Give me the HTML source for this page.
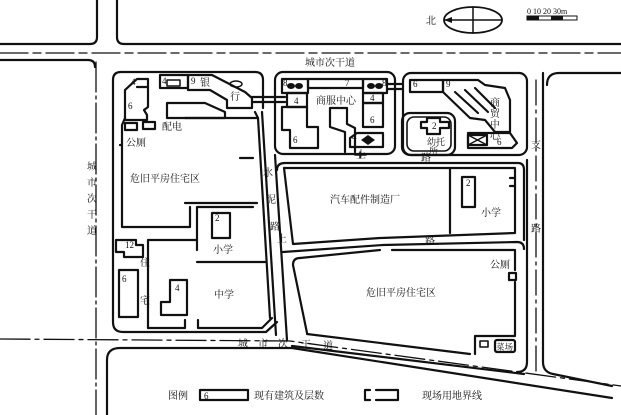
<!DOCTYPE html>
<html><head><meta charset="utf-8"><style>
html,body{margin:0;padding:0;background:#fff;}
svg{display:block;}
text{font-family:"Liberation Serif","Noto Serif CJK SC","Noto Sans CJK SC",serif;fill:#111;}
</style></head><body>
<svg width="621" height="415" viewBox="0 0 621 415" xmlns="http://www.w3.org/2000/svg">
<rect width="621" height="415" fill="#fff"/>
<g fill="none" stroke="#111" stroke-width="2.2" stroke-linejoin="round" stroke-linecap="round">
<!-- top road -->
<path d="M0,44 H90 Q97,44 97,37 V0"/>
<path d="M117,0 V37 Q117,44 124,44 H621"/>
<path d="M0,60 H88 Q95,60 95,67"/>
<path d="M547,85 Q547,73 559,73 H621"/>
<path d="M0,53 H621" stroke-width="1.3" stroke-dasharray="28,5,8,5"/>
<!-- left road center -->
<path d="M96,62 V415" stroke-width="1.3" stroke-dasharray="30,4,3,4"/>
<!-- right road -->
<path d="M536,80 V375" stroke-width="1.3" stroke-dasharray="25,5,3,5"/>
<path d="M543,73 V362 Q543,372 553,374 L612,386"/>
<path d="M527,160 V362 Q527,372 517,372"/>
<!-- bottom road -->
<path d="M0,339 L290,341 L621,386" stroke-width="1.3" stroke-dasharray="30,5,4,5"/>
<path d="M107,415 V360 Q107,348 120,348 L292,348 L612,398"/>
<path d="M307,334 L470,354"/>
<path d="M292,346 L524,374"/>
<!-- Block A outer -->
<path d="M263,108 V80 Q263,72 255,72 H121 Q113,72 113,80 V322 Q113,332 123,332 H266 L277,322"/>
<!-- water road lines -->
<path d="M255,112 L258,118 L270,318"/>
<path d="M262,112 L276,335"/>
<path d="M275,155 L287,340"/>
<path d="M277,170 Q277,163 285,163 H518 Q524,163 524,170 V240"/>
<!-- A inner residential -->
<path d="M185,118 H258"/>
<path d="M125,118 L122,125 V227 H190 V207"/>
<path d="M185,203 H257"/>
<path d="M240,158 H253"/>
<path d="M197,250 V207 H253"/>
<path d="M197,262 H265"/>
<path d="M148,328 V240 H197"/>
<path d="M148,328 H185 V320"/>
<path d="M198,320 V328 H262 L272,318"/>
<path d="M120,145 H122"/>
<!-- left top buildings -->
<path d="M125,90 L137,79 H148 V107 L144,110 L147,115 V120 H125 Z"/>
<path d="M137,87 H148"/>
<rect x="125" y="123" width="12" height="7"/>
<rect x="143" y="122" width="12" height="7"/>
<!-- bank -->
<rect x="160" y="75" width="28" height="13"/>
<rect x="167" y="80" width="13" height="6" stroke-width="1.5"/>
<path d="M188,75 H212 L245,92 L252,98 V108 H227 V100 L210,90 H188 Z"/>
<path d="M167,103 H205 L225,112 V118 H167 Z"/>
<ellipse cx="236" cy="84" rx="6" ry="3" stroke-width="1.5"/>
<path d="M252,97 H285 M252,102 H285"/>
<!-- middle block -->
<rect x="275" y="72" width="120" height="82" rx="8"/>
<rect x="282" y="79" width="26" height="14"/>
<rect x="308" y="79" width="55" height="9"/>
<rect x="363" y="79" width="24" height="14"/>
<path d="M387,84 H403 M387,89 H403"/>
<rect x="287" y="93" width="20" height="14"/>
<path d="M282,107 H307 V127 H318 V148 H290 V130 H282 Z"/>
<path d="M345,152 V132 L330,127 V108 H347 V124 L355,128 V152"/>
<rect x="363" y="93" width="20" height="10"/>
<rect x="363" y="103" width="20" height="24"/>
<path d="M357,133 H383 V147 H350 V138 Z"/>
<path d="M360,152 V158 M355,155 H366" stroke-width="1.5"/>
<!-- right block -->
<rect x="403" y="73" width="124" height="82" rx="8"/>
<rect x="410" y="80" width="33" height="12"/>
<path d="M443,80 H478 L485,85 L505,88 L510,100 V132 H495 L485,120 L470,118 L443,92 Z"/>
<path d="M455,92 L478,113 M465,90 L488,112 M475,88 L495,108"/>
<rect x="402" y="113" width="53" height="42" rx="8"/>
<rect x="407" y="117" width="44" height="34" rx="7" stroke-width="1.6"/>
<path d="M427,118 H440 V122 H449 V128 H440 V134 H427 V128 H421 V122 H427 Z"/>
<path d="M468,133 H510 L517,143 L512,148 H468 Z"/>
<rect x="468" y="135" width="19" height="10"/>
<path d="M468,135 L487,145 M487,135 L468,145" stroke-width="1.4"/>
<!-- block B -->
<path d="M284,168 H515 V233 L380,238 L293,244 Z"/>
<path d="M450,168 V233"/>
<rect x="462" y="177" width="13" height="30"/>
<path d="M515,178 H510 M515,186 H510"/>
<!-- road between B and C -->
<path d="M283,252 L383,245 L517,242 Q524,242 524,249"/>
<!-- block C -->
<path d="M300,258 Q293,258 293,265 L307,333"/>
<path d="M300,258 L380,250 M392,250 H515 V270"/>
<path d="M515,282 V336 H475 V354"/>
<rect x="509" y="273" width="7" height="7"/>
<rect x="480" y="341" width="8" height="6" stroke-width="1.6"/>
<rect x="495" y="340" width="20" height="12" rx="2"/>
<!-- left strip buildings -->
<path d="M116,240 H136 V245 H143 V257 H124 V252 H116 Z"/>
<rect x="119" y="270" width="19" height="47"/>
<path d="M170,280 H187 V315 H161 V302 H170 Z"/>
<rect x="212" y="213" width="18" height="25"/>
<!-- legend -->
<rect x="200" y="390" width="48" height="10"/>
<path d="M365,390 H370 M365,390 V400 H370 M376,400 H398 V390 H376"/>
<!-- north arrow -->
<ellipse cx="473" cy="20" rx="29" ry="13" stroke-width="1.8"/>
<path d="M473,7 V33 M445,20 H502" stroke-width="1.5"/>
</g>
<!-- filled icons -->
<g fill="#111">
<polygon points="444,20 452,17 452,23"/>
<rect x="527" y="16" width="12" height="4"/>
<rect x="551" y="16" width="12" height="4"/>
<rect x="527" y="16" width="50" height="4" fill="none" stroke="#111" stroke-width="1"/>
<ellipse cx="291" cy="86" rx="4" ry="3"/><ellipse cx="299" cy="86" rx="4" ry="3"/>
<ellipse cx="371" cy="86" rx="4" ry="3"/><ellipse cx="379" cy="86" rx="4" ry="3"/>
<polygon points="361,140 368,135 375,140 368,145"/>
</g>
<g font-size="10">
<text x="305" y="66">城市次干道</text>
<text x="316" y="104">商服中心</text>
<text x="200" y="86">银</text>
<text x="230" y="100">行</text>
<text x="162" y="130">配电</text>
<text x="126" y="146">公厕</text>
<text x="130" y="182">危旧平房住宅区</text>
<text x="263" y="176">水</text>
<text x="266" y="203">泥</text>
<text x="270" y="230">路</text>
<text x="213" y="253">小学</text>
<text x="214" y="298">中学</text>
<text x="140" y="266">住</text>
<text x="140" y="304">宅</text>
<text x="330" y="203">汽车配件制造厂</text>
<text x="481" y="216">小学</text>
<text x="366" y="296">危旧平房住宅区</text>
<text x="490" y="268">公厕</text>
<text x="496" y="350" font-size="8.5">菜场</text>
<text x="427" y="145" font-size="9">幼托</text>
<text x="429" y="154" font-size="9">所</text>
<text x="421" y="161">路</text>
<text x="425" y="244">路</text>
<text x="277" y="242">上</text>
<text x="356" y="158">土</text>
<text x="490" y="106">商</text>
<text x="490" y="117">贸</text>
<text x="490" y="128">中</text>
<text x="490" y="139">心</text>
<text x="531" y="148">支</text>
<text x="531" y="232">路</text>
<text x="87" y="170">城</text>
<text x="87" y="186">市</text>
<text x="87" y="202">次</text>
<text x="87" y="218">干</text>
<text x="87" y="234">道</text>
<text x="238" y="347" font-size="10">城</text>
<text x="258" y="347" font-size="10">市</text>
<text x="278" y="347" font-size="10">次</text>
<text x="301" y="348" font-size="10">干</text>
<text x="323" y="349" font-size="10">道</text>
<text x="168" y="399">图例</text>
<text x="254" y="399">现有建筑及层数</text>
<text x="422" y="399">现场用地界线</text>
<text x="426" y="24">北</text>
</g>
<g font-size="9">
<text x="204" y="399">6</text>
<text x="131" y="85">4</text>
<text x="128" y="109">6</text>
<text x="162" y="84">4</text>
<text x="191" y="84">9</text>
<text x="283" y="86">8</text>
<text x="345" y="86">7</text>
<text x="382" y="86">8</text>
<text x="294" y="104">4</text>
<text x="293" y="143">6</text>
<text x="370" y="101">4</text>
<text x="370" y="123">6</text>
<text x="352" y="140">4</text>
<text x="413" y="87">6</text>
<text x="446" y="87">9</text>
<text x="432" y="129">2</text>
<text x="497" y="145">6</text>
<text x="466" y="186">2</text>
<text x="125" y="248">12</text>
<text x="122" y="282">6</text>
<text x="175" y="291">4</text>
<text x="215" y="221">2</text>
<text x="527" y="14" font-size="8">0  10  20  30m</text>
</g>
</svg>
</body></html>
